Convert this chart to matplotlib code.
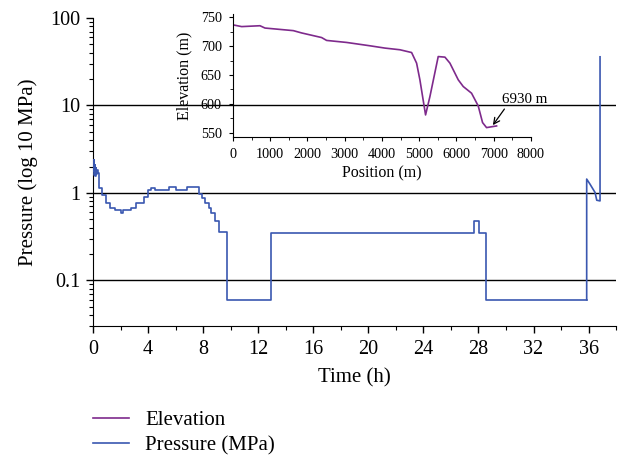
import matplotlib
matplotlib.use('Agg')
import matplotlib.pyplot as plt
import numpy as np
from matplotlib.ticker import MultipleLocator, LogLocator, FixedLocator, FuncFormatter

plt.rcParams['font.family'] = ['Liberation Serif', 'DejaVu Serif']

blue = '#3a57b0'
purple = '#7e2a8c'

# pressure record, stepped part (time in h, pressure in MPa)
step_t = [0, 0.04, 0.08, 0.12, 0.16, 0.2, 0.25, 0.3, 0.36,
          0.44, 0.68, 0.97, 1.24, 1.6, 2.04, 2.21, 2.75, 3.11, 3.72,
          4.03, 4.2, 4.52, 5.54, 6.05, 6.83, 7.68, 7.92, 8.16, 8.45,
          8.58, 8.89, 9.13, 9.74, 12.9, 27.67, 28.03, 28.57, 35.86]
step_p = [1.8, 2.4, 1.6, 2.1, 1.55, 1.95, 1.65, 1.85, 1.7,
          1.13, 0.95, 0.775, 0.667, 0.64, 0.585, 0.64, 0.68, 0.775, 0.907,
          1.07, 1.15, 1.07, 1.17, 1.07, 1.17, 0.98, 0.87, 0.775, 0.667,
          0.585, 0.478, 0.357, 0.06, 0.35, 0.48, 0.35, 0.06, 0.06]

# pressure record, final part
tail_t = [35.86, 35.86, 36.1, 36.47, 36.59, 36.83, 36.83]
tail_p = [0.06, 1.44, 1.26, 1.01, 0.825, 0.81, 36]

# elevation profile along the line
pos = [0, 233, 725, 859, 1620, 1843, 2380, 2515, 3052, 3678, 4081, 4484,
       4797, 4931, 5020, 5172, 5289, 5512, 5692, 5826, 6050, 6184, 6407,
       6586, 6703, 6810, 7079]
elev = [737, 734, 735.5, 731.5, 727, 723, 715, 710, 706.5, 700.7, 696.7,
        693.8, 689, 670.6, 641.6, 580.7, 612.6, 682, 681, 670.6, 641.6,
        630, 618.4, 596.4, 567.4, 558.7, 561.6]

fig = plt.figure(figsize=(6.18, 4.58), dpi=100)
ax = fig.add_axes([0.1505, 0.288, 0.8465, 0.6727])

for lvl in [0.1, 1, 10]:
    ax.axhline(lvl, color='black', lw=1.0, zorder=1)

ax.step(step_t, step_p, where='post', color=blue, lw=1.2, zorder=3)
ax.plot(tail_t, tail_p, color=blue, lw=1.2, zorder=3)

ax.set_yscale('log')
ax.set_ylim(0.03, 100)
ax.set_xlim(0, 38)
ax.xaxis.set_major_locator(MultipleLocator(4))
ax.xaxis.set_minor_locator(MultipleLocator(2))
ax.yaxis.set_major_locator(FixedLocator([0.1, 1, 10, 100]))
ax.yaxis.set_minor_locator(LogLocator(base=10, subs=np.arange(2, 10)))
ax.yaxis.set_major_formatter(FuncFormatter(lambda v, p: '%g' % v))
ax.spines['top'].set_visible(False)
ax.spines['right'].set_visible(False)
ax.tick_params(axis='both', which='major', labelsize=14.5, length=5, width=1)
ax.tick_params(axis='x', which='major', pad=5)
ax.tick_params(axis='y', which='major', pad=4)
ax.tick_params(axis='both', which='minor', length=3, width=0.8)
ax.set_xlabel('Time (h)', fontsize=15, labelpad=7)
ax.set_ylabel('Pressure (log 10 MPa)', fontsize=15, labelpad=9)

# inset with elevation
ins = fig.add_axes([0.377, 0.701, 0.482, 0.2686])
ins.patch.set_alpha(0)
ins.plot(pos, elev, color=purple, lw=1.2)
ins.set_xlim(0, 8000)
ins.set_ylim(542.5, 756)
ins.xaxis.set_major_locator(MultipleLocator(1000))
ins.xaxis.set_minor_locator(MultipleLocator(500))
ins.yaxis.set_major_locator(MultipleLocator(50))
ins.yaxis.set_minor_locator(MultipleLocator(25))
ins.spines['top'].set_visible(False)
ins.spines['right'].set_visible(False)
ins.tick_params(axis='both', which='major', labelsize=10.2, length=3, width=0.8, pad=5)
ins.tick_params(axis='both', which='minor', length=2, width=0.6)
ins.set_xlabel('Position (m)', fontsize=11.5, labelpad=3)
ins.set_ylabel('Elevation (m)', fontsize=11.5, labelpad=6)
ins.annotate('6930 m', xy=(6980, 563), xytext=(7221, 607), fontsize=10.8,
             va='center', ha='left', annotation_clip=False,
             arrowprops=dict(arrowstyle='->', color='black', lw=0.9,
                             shrinkA=0, shrinkB=0, relpos=(0.1, 0)))

# legend under the plot
h1, = ax.plot([], [], color=purple, lw=1.2)
h2, = ax.plot([], [], color=blue, lw=1.2)
fig.legend([h1, h2], ['Elevation', 'Pressure (MPa)'], loc='upper left',
           bbox_to_anchor=(0.151, 0.104), frameon=False, fontsize=15,
           handlelength=1.73, handletextpad=0.77, labelspacing=0.3,
           borderpad=0, borderaxespad=0)

fig.savefig('out.png', dpi=100)
